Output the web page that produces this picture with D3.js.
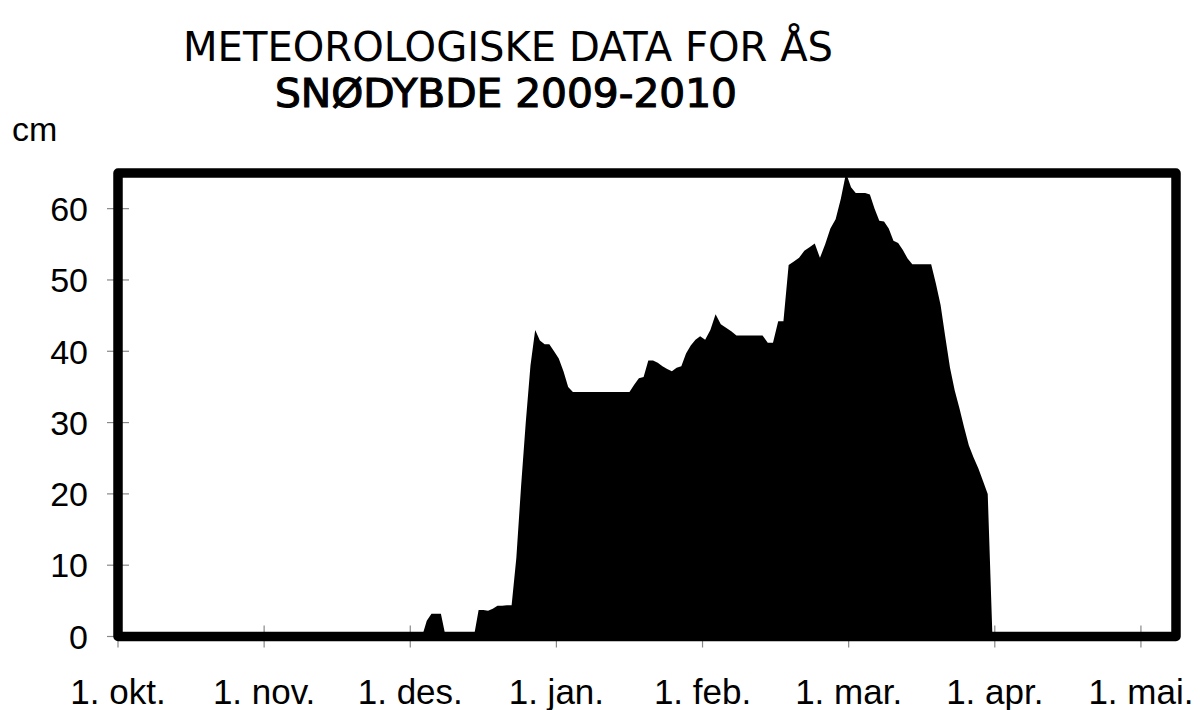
<!DOCTYPE html>
<html>
<head>
<meta charset="utf-8">
<script src="https://cdn.jsdelivr.net/npm/d3@7"></script>
<style>
  body { margin: 0; background: #fff; }
  svg { display: block; }
</style>
</head>
<body>
<svg id="chart" width="1201" height="710"></svg>
<script>
// snow depth (cm), one value per day
const decValues = [0, 0, 0, 2.2, 3.2, 3.2, 3.2, 0, 0, 0, 0, 0, 0, 0, 3.7, 3.7, 3.6, 3.9, 4.3, 4.3,
  4.4, 4.4, 11, 21, 30, 38, 43, 41.5, 41, 41, 40];
const janValues = [39, 37.2, 35, 34.3, 34.3, 34.3, 34.3, 34.3, 34.3, 34.3, 34.3, 34.3, 34.3, 34.3, 34.3, 34.3,
  35.3, 36.2, 36.4, 38.7, 38.7, 38.4, 37.9, 37.5, 37.2, 37.7, 37.9, 39.7, 40.8, 41.6, 42.1];
const febValues = [41.6, 43, 45.2, 43.8, 43.3, 42.8, 42.2, 42.2, 42.2, 42.2, 42.2, 42.2, 41.2, 41.2, 44.2, 44.2,
  52.1, 52.6, 53.1, 54.1, 54.6, 55.1, 53.1, 55, 57.2, 58.5, 61.4, 65];
const marValues = [63, 62.2, 62.2, 62.2, 62, 60, 58.3, 58.2, 57.2, 55.5, 55.2, 54.2, 53, 52.2, 52.2, 52.2,
  52.2, 52.2, 49.5, 46.5, 42, 37.7, 34.5, 32, 29.3, 26.8, 25.1, 23.6, 21.8, 20, 0];

const monthLabels = ["1. okt.", "1. nov.", "1. des.", "1. jan.", "1. feb.", "1. mar.", "1. apr.", "1. mai."];
const yTicks = [0, 10, 20, 30, 40, 50, 60];

// months are drawn with equal width; index 0 = oktober
const series = [
  { month: 2, values: decValues },
  { month: 3, values: janValues },
  { month: 4, values: febValues },
  { month: 5, values: marValues }
];

const data = [];
series.forEach(s => {
  const n = s.values.length;
  s.values.forEach((v, i) => {
    data.push({ m: s.month + (i + 0.5) / n, v: v });
  });
});

const svg = d3.select("#chart");

const x = d3.scaleLinear().domain([0, 7.24]).range([118, 1176]);
const y = d3.scaleLinear().domain([0, 65]).range([636.5, 173]);

// titles
svg.append("text")
  .attr("x", 508).attr("y", 61)
  .attr("text-anchor", "middle")
  .attr("textLength", 650).attr("lengthAdjust", "spacingAndGlyphs")
  .style("font-family", "'DejaVu Sans', Verdana, sans-serif")
  .style("font-size", "40px")
  .text("METEOROLOGISKE DATA FOR ÅS");

svg.append("text")
  .attr("x", 506).attr("y", 107)
  .attr("text-anchor", "middle")
  .attr("textLength", 462).attr("lengthAdjust", "spacingAndGlyphs")
  .style("font-family", "'DejaVu Sans', Verdana, sans-serif")
  .style("font-size", "39px")
  .style("stroke", "#000").style("stroke-width", 1.1)
  .text("SNØDYBDE 2009-2010");

svg.append("text")
  .attr("x", 12).attr("y", 141)
  .style("font-family", "'Liberation Sans', Arial, sans-serif")
  .style("font-size", "34px")
  .text("cm");

// tick marks (under the area and the frame)
svg.append("g").selectAll("line")
  .data(yTicks)
  .join("line")
  .attr("x1", x(0) - 11).attr("x2", x(0) + 11)
  .attr("y1", d => y(d)).attr("y2", d => y(d))
  .attr("stroke", "#888").attr("stroke-width", 1.2);

svg.append("g").selectAll("line")
  .data(monthLabels)
  .join("line")
  .attr("x1", (d, i) => x(i)).attr("x2", (d, i) => x(i))
  .attr("y1", y(0) - 11).attr("y2", y(0) + 11)
  .attr("stroke", "#888").attr("stroke-width", 1.2);

// snow depth area
const area = d3.area()
  .x(d => x(d.m))
  .y0(y(0))
  .y1(d => y(d.v));

svg.append("path")
  .datum(data)
  .attr("d", area)
  .attr("fill", "#000");

// frame
svg.append("rect")
  .attr("x", x(0)).attr("y", y(65))
  .attr("width", x(7.24) - x(0)).attr("height", y(0) - y(65))
  .attr("fill", "none")
  .attr("stroke", "#000")
  .attr("stroke-width", 9.5)
  .attr("stroke-linejoin", "round");

// tick labels
svg.append("g").selectAll("text")
  .data(yTicks)
  .join("text")
  .attr("x", 88).attr("y", d => y(d))
  .attr("dy", "0.36em")
  .attr("text-anchor", "end")
  .style("font-family", "'Liberation Sans', Arial, sans-serif")
  .style("font-size", "34px")
  .text(d => d);

svg.append("g").selectAll("text")
  .data(monthLabels)
  .join("text")
  .attr("x", (d, i) => x(i)).attr("y", 704)
  .attr("text-anchor", "middle")
  .style("font-family", "'Liberation Sans', Arial, sans-serif")
  .style("font-size", "35px")
  .text(d => d);
</script>
</body>
</html>
